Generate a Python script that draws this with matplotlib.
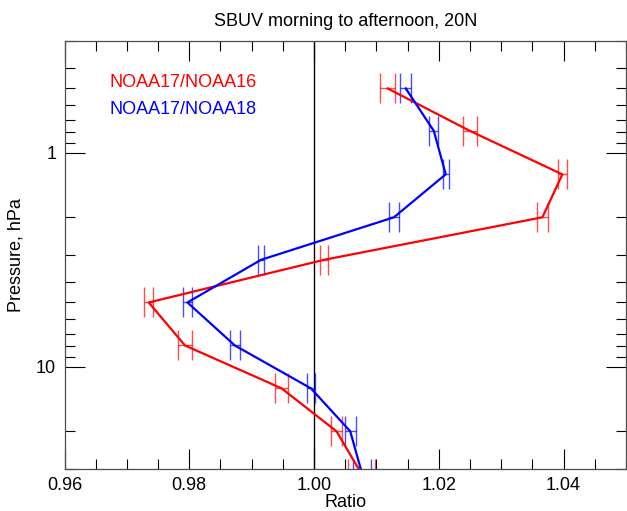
import numpy as np
import matplotlib
matplotlib.use("Agg")
import matplotlib.pyplot as plt
from matplotlib.ticker import FixedLocator, LogLocator, NullFormatter, FixedFormatter, MultipleLocator

plt.rcParams['font.family'] = ['Liberation Sans', 'DejaVu Sans']

# SBUV layer-centre pressures (hPa)
pressure = [0.5, 0.79, 1.26, 2.0, 3.16, 5.0, 7.94, 12.6, 20.0, 31.6]

# Morning/afternoon ratios and their uncertainties
ratio_n17_n16 = [1.0118, 1.0250, 1.0398, 1.0366, 1.0016, 0.9735, 0.9793, 0.9948, 1.0036, 1.0076]
err_n17_n16 = [0.0012, 0.0011, 0.0007, 0.0009, 0.0007, 0.00075, 0.0011, 0.0011, 0.0009, 0.0022]

ratio_n17_n18 = [1.0147, 1.0192, 1.0211, 1.0128, 0.9915, 0.9797, 0.9873, 0.9995, 1.0058, 1.0077]
err_n17_n18 = [0.0009, 0.0007, 0.0005, 0.00075, 0.0005, 0.0007, 0.0008, 0.0007, 0.00085, 0.0015]

series_names = ["NOAA17/NOAA16", "NOAA17/NOAA18"]
series_colors = ["#ff0000", "#0000ff"]

FS = 13

fig = plt.figure(figsize=(6.27, 5.11), dpi=100)
ax = fig.add_axes([0.1029, 0.0822, 0.8955, 0.8376])

ax.axvline(1.0, color="black", lw=1.0, zorder=1)

for vals, errs, col in [(ratio_n17_n16, err_n17_n16, series_colors[0]),
                        (ratio_n17_n18, err_n17_n18, series_colors[1])]:
    ax.plot(vals, pressure, color=col, lw=1.6, zorder=3)
    ax.errorbar(vals, pressure, xerr=errs, fmt="none", ecolor=col,
                elinewidth=1.0, capsize=11, capthick=1.0, alpha=0.7, zorder=2)

ax.set_yscale("log")
ax.set_ylim(30, 0.3)
ax.set_xlim(0.96, 1.05)

ax.xaxis.set_major_locator(FixedLocator([0.96, 0.98, 1.00, 1.02, 1.04]))
ax.xaxis.set_major_formatter(FixedFormatter(["0.96", "0.98", "1.00", "1.02", "1.04"]))
ax.xaxis.set_minor_locator(MultipleLocator(0.005))

ax.yaxis.set_major_locator(FixedLocator([1, 10]))
ax.yaxis.set_major_formatter(FixedFormatter(["1", "10"]))
ax.yaxis.set_minor_locator(LogLocator(base=10, subs=np.arange(2, 10)))
ax.yaxis.set_minor_formatter(NullFormatter())

ax.tick_params(which="both", direction="in", top=True, right=True, width=0.8,
               color="black", labelsize=FS, pad=6)
ax.tick_params(which="major", length=14.5)
ax.tick_params(which="minor", length=7.2)

for sp in ax.spines.values():
    sp.set_linewidth(0.9)
    sp.set_color("0.3")

ax.set_xlabel("Ratio", fontsize=FS, labelpad=0)
ax.set_ylabel("Pressure, hPa", fontsize=FS, labelpad=8)
ax.set_title("SBUV morning to afternoon, 20N", fontsize=FS, pad=11)

ax.text(0.081, 0.902, series_names[0], color=series_colors[0], fontsize=FS,
        transform=ax.transAxes, va="center", ha="left")
ax.text(0.081, 0.839, series_names[1], color=series_colors[1], fontsize=FS,
        transform=ax.transAxes, va="center", ha="left")

fig.savefig("out.png", dpi=100)
